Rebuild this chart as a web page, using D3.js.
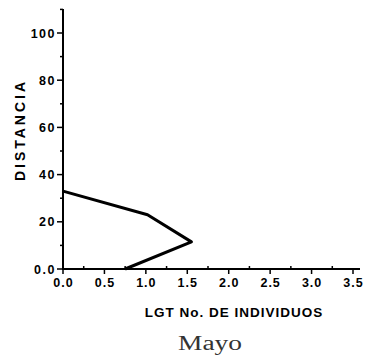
<!DOCTYPE html>
<html><head><meta charset="utf-8">
<script src="https://cdn.jsdelivr.net/npm/d3@7"></script>
<style>body{margin:0;background:#fff}svg{display:block}</style>
</head><body>
<svg id="c" width="365" height="358"></svg>
<script>
const xValues = [0.0, 1.02, 1.55, 0.75];
const yValues = [33, 23, 11.5, 0];
const xTicks = [0, 0.5, 1, 1.5, 2, 2.5, 3, 3.5];
const xTickLabels = ["0.0","0.5","1.0","1.5","2.0","2.5","3.0","3.5"];
const yTicks = [0, 20, 40, 60, 80, 100];
const yTickLabels = ["0.0","20","40","60","80","100"];
const xTitle = "LGT No. DE INDIVIDUOS";
const yTitle = "DISTANCIA";
const title = "Mayo";

const svg = d3.select("#c");
const x = d3.scaleLinear().domain([0, 3.5]).range([63, 353]);
const y = d3.scaleLinear().domain([0, 100]).range([269, 33]);

const fontB = "'Liberation Sans', Arial, sans-serif";

// X axis
const gx = svg.append("g").attr("transform", `translate(0,${y(0)})`);
gx.append("line").attr("x1", x(0)).attr("x2", 360).attr("stroke", "#000").attr("stroke-width", 2);
gx.selectAll(".maj").data(xTicks).join("line")
  .attr("x1", d => x(d)).attr("x2", d => x(d)).attr("y1", 0).attr("y2", 5)
  .attr("stroke", "#000").attr("stroke-width", 1.5);
gx.selectAll(".min").data(xTicks.slice(0, -1).map(d => d + 0.25)).join("line")
  .attr("x1", d => x(d)).attr("x2", d => x(d)).attr("y1", 0).attr("y2", -3)
  .attr("stroke", "#000").attr("stroke-width", 1.5);
gx.selectAll("text").data(xTicks).join("text")
  .attr("x", d => x(d) + 0.5).attr("y", 18).attr("text-anchor", "middle")
  .attr("font-family", fontB).attr("font-weight", "bold").attr("font-size", 12.5)
  .attr("letter-spacing", 1)
  .text((d, i) => xTickLabels[i]);

// Y axis
const gy = svg.append("g").attr("transform", `translate(${x(0)},0)`);
gy.append("line").attr("y1", 9).attr("y2", y(0) + 1).attr("stroke", "#000").attr("stroke-width", 2);
gy.selectAll(".maj").data(yTicks).join("line")
  .attr("x1", -6).attr("x2", 0).attr("y1", d => y(d)).attr("y2", d => y(d))
  .attr("stroke", "#000").attr("stroke-width", 1.5);
gy.selectAll(".min").data(yTicks.map(d => d + 10)).join("line")
  .attr("x1", -3).attr("x2", 0).attr("y1", d => y(d)).attr("y2", d => y(d))
  .attr("stroke", "#000").attr("stroke-width", 1.5);
gy.selectAll("text").data(yTicks).join("text")
  .attr("x", -7).attr("y", d => y(d) + 4.5).attr("text-anchor", "end")
  .attr("font-family", fontB).attr("font-weight", "bold").attr("font-size", 12.5)
  .attr("letter-spacing", 1.5)
  .text((d, i) => yTickLabels[i]);

// Data line
const line = d3.line().x(d => x(d[0])).y(d => y(d[1]));
svg.append("path").datum(xValues.map((v, i) => [v, yValues[i]]))
  .attr("d", line).attr("fill", "none").attr("stroke", "#000")
  .attr("stroke-width", 3).attr("stroke-linejoin", "round");

// Titles
svg.append("text").attr("x", 234).attr("y", 317).attr("text-anchor", "middle")
  .attr("font-family", fontB).attr("font-weight", "bold").attr("font-size", 13.5)
  .attr("letter-spacing", 1).text(xTitle);
svg.append("text").attr("transform", `translate(25,130) rotate(-90)`).attr("text-anchor", "middle")
  .attr("font-family", fontB).attr("font-weight", "bold").attr("font-size", 14)
  .attr("letter-spacing", 3).text(yTitle);
svg.append("text").attr("x", 210).attr("y", 350).attr("text-anchor", "middle")
  .attr("font-family", "'Liberation Serif', 'DejaVu Serif', serif").attr("font-size", 20)
  .attr("fill", "#333")
  .attr("textLength", 64).attr("lengthAdjust", "spacingAndGlyphs")
  .text(title);
</script>
</body></html>
